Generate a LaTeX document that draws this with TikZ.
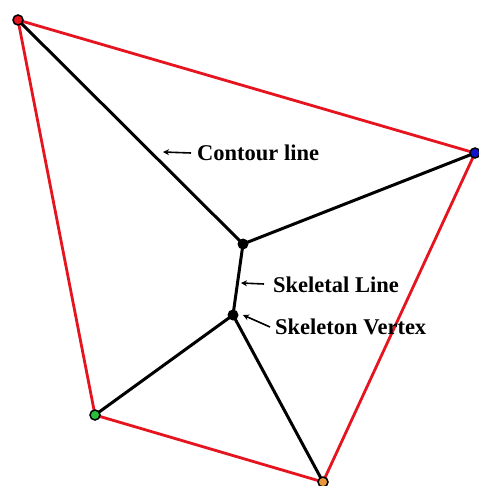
\documentclass[tikz,border=0pt]{standalone}
\usepackage{fontspec}
\setmainfont{Liberation Serif}
\usetikzlibrary{arrows.meta}
\definecolor{redline}{RGB}{230,20,30}
\definecolor{dotgreen}{RGB}{40,190,60}
\definecolor{dotorange}{RGB}{230,150,60}
\definecolor{dotblue}{RGB}{20,20,200}
\begin{document}
\begin{tikzpicture}[x=1pt,y=-1pt,
  boundary/.style={draw=redline,line width=2.8pt},
  skel/.style={draw=black,line width=3pt},
  pointer/.style={draw=black,line width=1.6pt,-{Stealth[length=6pt,width=6pt]}},
  corner/.style={circle,draw=black,line width=1.5pt,inner sep=0pt,minimum size=10pt},
  svert/.style={circle,fill=black,inner sep=0pt,minimum size=11pt},
  lbl/.style={font=\fontsize{22.5}{26}\selectfont\bfseries,anchor=west,inner sep=0pt}]
\useasboundingbox[fill=white] (0,0) rectangle (478,486);
\coordinate (tl) at (18,20);
\coordinate (r) at (475,153);
\coordinate (bl) at (95,415);
\coordinate (b) at (323,482);
\coordinate (s1) at (243,244);
\coordinate (s2) at (233,315);
\draw[boundary,line join=round] (tl) -- (r) -- (b) -- (bl) -- cycle;
\draw[skel] (tl) -- (s1) -- (r);
\draw[skel] (s1) -- (s2);
\draw[skel] (bl) -- (s2) -- (b);
\node[svert] (v1) at (s1) {};
\node[svert] (v2) at (s2) {};
\node[corner,fill=redline] (ntl) at (tl) {};
\node[corner,fill=dotblue] (nr) at (r) {};
\node[corner,fill=dotgreen] (nbl) at (bl) {};
\node[corner,fill=dotorange] (nb) at (b) {};
\node[lbl] (l1) at (197,153) {Contour line};
\node[lbl] (l2) at (273,285) {Skeletal Line};
\node[lbl] (l3) at (275,327) {Skeleton Vertex};
\coordinate (a1) at (163,152);
\coordinate (a2) at (241,283);
\coordinate (a3) at (243,315);
\draw[pointer] (l1.west) ++(-6,0) -- (a1);
\draw[pointer] (l2.west) ++(-9,-1) -- (a2);
\draw[pointer] (l3.west) ++(-5,0) -- (a3);
\end{tikzpicture}
\end{document}
